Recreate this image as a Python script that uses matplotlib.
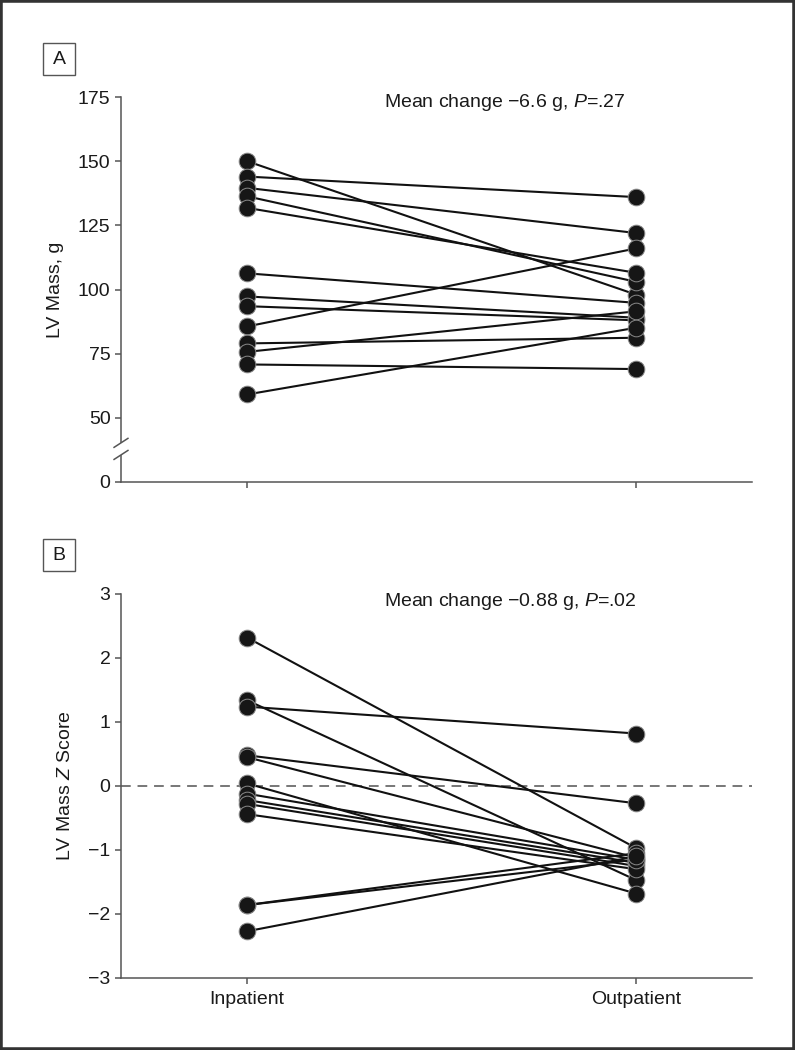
import matplotlib
matplotlib.use("Agg")
import matplotlib.pyplot as plt
from matplotlib import font_manager
from matplotlib.patches import Rectangle

# fonts: narrow sans if there is one
names = {f.name for f in font_manager.fontManager.ttflist}
base = 'Liberation Sans Narrow' if 'Liberation Sans Narrow' in names else 'Liberation Sans'
plt.rcParams['font.family'] = [base, 'DejaVu Sans']
plt.rcParams['mathtext.fontset'] = 'custom'
plt.rcParams['mathtext.rm'] = base
plt.rcParams['mathtext.it'] = base + ':italic'

# data
groups = ['Inpatient', 'Outpatient']
inpatient_mass = [150, 144, 139.6, 136.3, 131.8, 106.3, 97.3, 93.5, 85.6, 79.0, 75.7, 70.8, 59.1]
outpatient_mass = [98, 136, 122, 103, 106.5, 94.8, 89, 88, 116, 81.2, 91.5, 69, 85.1]
inpatient_z = [2.32, 1.34, 1.24, 0.48, 0.45, 0.04, -0.12, -0.22, -0.28, -0.44, -1.86, -1.86, -2.27]
outpatient_z = [-0.97, -1.47, 0.82, -0.27, -1.12, -1.68, -1.15, -1.2, -1.25, -1.3, -1.05, -1.15, -1.1]
mass_ticks = [25, 50, 75, 100, 125, 150, 175]
mass_labels = ['0', '50', '75', '100', '125', '150', '175']
z_ticks = [-3, -2, -1, 0, 1, 2, 3]
z_labels = ['\u22123', '\u22122', '\u22121', '0', '1', '2', '3']

W, H = 795, 1050
fig = plt.figure(figsize=(W / 100, H / 100), dpi=100)

def px_box(x0, x1, y0, y1):
    return [x0 / W, 1 - y1 / H, (x1 - x0) / W, (y1 - y0) / H]

axA = fig.add_axes(px_box(121, 752, 97, 482))
axB = fig.add_axes(px_box(121, 752, 594, 978))

spine_col = '#555555'
fs = 14
txt_col = '#1a1a1a'

def style(ax):
    for s in ['top', 'right']:
        ax.spines[s].set_visible(False)
    for s in ['left', 'bottom']:
        ax.spines[s].set_color(spine_col)
        ax.spines[s].set_linewidth(1.1)
    ax.tick_params(direction='out', length=4.5, width=1.1, color=spine_col,
                   labelsize=fs, labelcolor=txt_col, pad=3)
    ax.set_xlim(-0.324, 1.298)
    ax.set_xticks([0, 1])

def pairs(ax, before, after):
    for a, b in zip(before, after):
        ax.plot([0, 1], [a, b], '-', color='#111111', lw=1.5, zorder=2)
        ax.plot([0, 1], [a, b], 'o', color='#161616', ms=12, mec='#8a8a8a',
                mew=0.7, zorder=3)

# panel A
style(axA)
pairs(axA, inpatient_mass, outpatient_mass)
axA.set_ylim(25, 175)
axA.set_yticks(mass_ticks)
axA.set_yticklabels(mass_labels)
axA.set_xticklabels([])
axA.set_ylabel('LV Mass, g', fontsize=fs, labelpad=10, color=txt_col)
axA.text(0.352, 172.8, 'Mean change \u22126.6 g, $P$=.27', fontsize=fs,
         va='center', ha='left', color=txt_col)
# axis break on the left spine
tr = axA.get_yaxis_transform()
axA.plot([0, 0], [36.2, 39.4], color='white', lw=3, transform=tr, clip_on=False, zorder=5)
axA.plot([-0.011, 0.011], [38.5, 42.0], color=spine_col, lw=1.1, transform=tr, clip_on=False, zorder=6)
axA.plot([-0.011, 0.011], [33.8, 37.3], color=spine_col, lw=1.1, transform=tr, clip_on=False, zorder=6)

# panel B
style(axB)
axB.axhline(0, color='#777777', lw=1.4, ls=(0, (5, 3.5)), zorder=1)
pairs(axB, inpatient_z, outpatient_z)
axB.set_ylim(-3, 3)
axB.set_yticks(z_ticks)
axB.set_yticklabels(z_labels)
axB.set_xticklabels(groups, fontsize=fs)
axB.tick_params(axis='x', pad=5)
axB.set_ylabel('LV Mass $Z$ Score', fontsize=fs, labelpad=10, color=txt_col)
axB.text(0.352, 2.88, 'Mean change \u22120.88 g, $P$=.02', fontsize=fs,
         va='center', ha='left', color=txt_col)

# panel letters in small boxes
for letter, y0 in [('A', 43), ('B', 539)]:
    fig.patches.append(Rectangle((43 / W, 1 - (y0 + 32) / H), 32 / W, 32 / H,
                                 transform=fig.transFigure, fill=False,
                                 edgecolor='#555555', lw=1.0))
    fig.text(59 / W, 1 - (y0 + 16) / H, letter, fontsize=fs, ha='center',
             va='center', color=txt_col)

# outer frame
fig.patches.append(Rectangle((0, 0), 1, 1, transform=fig.transFigure, fill=False,
                             edgecolor='#333333', lw=4))

fig.savefig('out.png', dpi=100)
